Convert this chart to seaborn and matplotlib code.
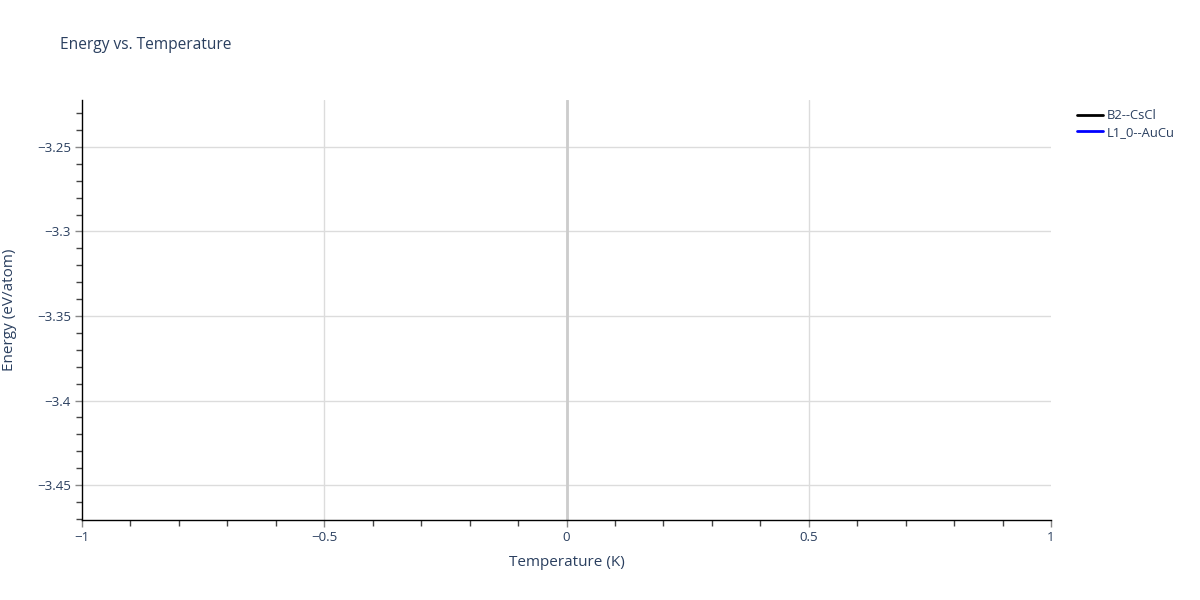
import matplotlib
matplotlib.use("Agg")
import matplotlib.pyplot as plt
from matplotlib.ticker import MultipleLocator, FuncFormatter
import seaborn as sns
import pandas as pd

# --- Data: one point per structure at T = 0 (lines with a single point draw nothing) ---
structures = ["B2--CsCl", "L1_0--AuCu"]
temperature = [0.0, 0.0]
energy = [-3.2346, -3.4583]
colors = {"B2--CsCl": "black", "L1_0--AuCu": "blue"}

df = pd.DataFrame({"Temperature": temperature, "Energy": energy, "Structure": structures})

sns.set_style("white")
plt.rcParams["font.family"] = ["Open Sans", "DejaVu Sans"]
text_col = "#2a3f5f"

fig = plt.figure(figsize=(12, 6), dpi=100)
ax = fig.add_axes([82 / 1200, 1 - 520 / 600, (1051 - 82) / 1200, 420 / 600])

sns.lineplot(data=df, x="Temperature", y="Energy", hue="Structure",
             palette=colors, linewidth=2, ax=ax)

ax.set_xlim(-1, 1)
ax.set_ylim(-3.4707, -3.2222)

ax.xaxis.set_major_locator(MultipleLocator(0.5))
ax.xaxis.set_minor_locator(MultipleLocator(0.1))
ax.yaxis.set_major_locator(MultipleLocator(0.05))
ax.yaxis.set_minor_locator(MultipleLocator(0.01))

fmt = FuncFormatter(lambda v, p: f"{v:g}".replace("-", "\u2212"))
ax.xaxis.set_major_formatter(fmt)
ax.yaxis.set_major_formatter(fmt)

ax.grid(True, which="major", color="#dcdcdc", linewidth=1)
ax.axvline(0, color="#cccccc", linewidth=2, zorder=1)
fig.canvas.draw()
for gl in ax.get_xgridlines():
    if abs(gl.get_xdata()[0]) > 0.99:
        gl.set_visible(False)

for s in ["top", "right"]:
    ax.spines[s].set_visible(False)
for s in ["left", "bottom"]:
    ax.spines[s].set_color("black")
    ax.spines[s].set_linewidth(1)

ax.tick_params(which="major", direction="out", length=5, width=1, color="#888888",
               labelsize=9.6, labelcolor=text_col, pad=3, left=True, bottom=True)
ax.tick_params(which="minor", direction="out", length=4, width=1, color="#444444",
               left=True, bottom=True)

ax.set_xlabel("Temperature (K)", fontsize=11, color=text_col, labelpad=8)
ax.set_ylabel("")
fig.text(10 / 1200, 1 - 310 / 600, "Energy (eV/atom)", fontsize=11, color=text_col,
         rotation=90, va="center", ha="center")

fig.text(60 / 1200, 1 - 45 / 600, "Energy vs. Temperature", fontsize=11.2,
         color=text_col, va="center", ha="left")

handles, labels = ax.get_legend_handles_labels()
ax.legend(handles, labels, loc="upper left", bbox_to_anchor=(1.017, 1.0),
          frameon=False, fontsize=9.4, labelcolor=text_col, handlelength=2.0,
          handletextpad=0.3, borderaxespad=0.3, labelspacing=0.3)

fig.savefig("out.png", dpi=100)
